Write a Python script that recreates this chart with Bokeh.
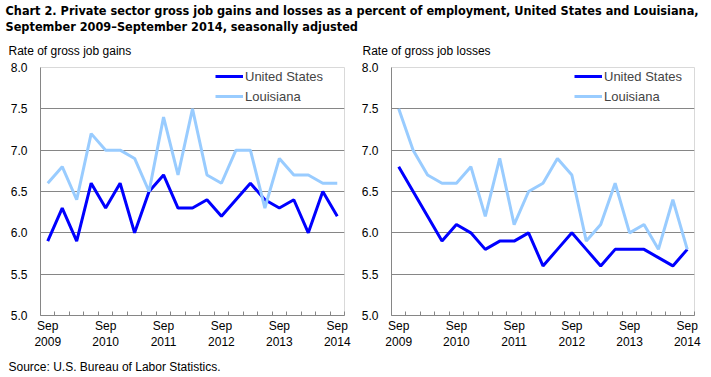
from bokeh.plotting import figure
from bokeh.models import Range1d, Label, FixedTicker, Legend, LegendItem
from bokeh.layouts import column, row
from bokeh.embed import file_html
from bokeh.resources import INLINE

# ---------------- data ----------------
quarters = ["Sep 2009", "Dec 2009", "Mar 2010", "Jun 2010", "Sep 2010", "Dec 2010",
            "Mar 2011", "Jun 2011", "Sep 2011", "Dec 2011", "Mar 2012", "Jun 2012",
            "Sep 2012", "Dec 2012", "Mar 2013", "Jun 2013", "Sep 2013", "Dec 2013",
            "Mar 2014", "Jun 2014", "Sep 2014"]
us_gains = [5.9, 6.3, 5.9, 6.6, 6.3, 6.6, 6.0, 6.5, 6.7, 6.3, 6.3, 6.4, 6.2, 6.4, 6.6,
            6.4, 6.3, 6.4, 6.0, 6.5, 6.2]
la_gains = [6.6, 6.8, 6.4, 7.2, 7.0, 7.0, 6.9, 6.5, 7.4, 6.7, 7.5, 6.7, 6.6, 7.0, 7.0,
            6.3, 6.9, 6.7, 6.7, 6.6, 6.6]
us_losses = [6.8, 6.5, 6.2, 5.9, 6.1, 6.0, 5.8, 5.9, 5.9, 6.0, 5.6, 5.8, 6.0, 5.8, 5.6,
             5.8, 5.8, 5.8, 5.7, 5.6, 5.8]
la_losses = [7.5, 7.0, 6.7, 6.6, 6.6, 6.8, 6.2, 6.9, 6.1, 6.5, 6.6, 6.9, 6.7, 5.9, 6.1,
             6.6, 6.0, 6.1, 5.8, 6.4, 5.8]
y_ticks = [5.0, 5.5, 6.0, 6.5, 7.0, 7.5, 8.0]
label_every = 4

title_lines = ["Chart 2. Private sector gross  job gains and losses  as a percent of employment, United  States  and Louisiana,",
               "September 2009\u2013September 2014,  seasonally  adjusted"]
left_ylabel = "Rate of gross job gains"
right_ylabel = "Rate of gross job losses"
source_text = "Source: U.S. Bureau of Labor Statistics."

# ---------------- style ----------------
US_COLOR = "#0000FF"
LA_COLOR = "#99CCFF"
GRID = "#868686"
FONT = "Liberation Sans"
NARROW = "'DejaVu Sans Condensed', 'Liberation Sans'"

x = list(range(len(quarters)))
major = x[::label_every]
overrides = {i: quarters[i].replace(" ", "\n") for i in major}


def blank_fig(w, h):
    f = figure(width=w, height=h, output_backend="svg", toolbar_location=None,
               x_axis_type=None, y_axis_type=None, min_border=0,
               x_range=Range1d(0, w), y_range=Range1d(0, h))
    f.outline_line_color = None
    f.grid.visible = False
    return f


top = blank_fig(711, 58)
top.add_layout(Label(x=5, y=48, text=title_lines[0], text_font=NARROW, text_font_style="bold",
                     text_font_size="12.6px", text_baseline="middle", text_color="black"))
top.add_layout(Label(x=5, y=32, text=title_lines[1], text_font=NARROW, text_font_style="bold",
                     text_font_size="12.6px", text_baseline="middle", text_color="black"))
top.add_layout(Label(x=8, y=8, text=left_ylabel, text_font=FONT,
                     text_font_size="12px", text_baseline="middle", text_color="black"))
top.add_layout(Label(x=362, y=8, text=right_ylabel, text_font=FONT,
                     text_font_size="12px", text_baseline="middle", text_color="black"))


def panel(w, left, right, us, la, legend_x):
    p = figure(width=w, height=294, output_backend="svg", toolbar_location=None,
               x_range=Range1d(-0.5, len(quarters) - 0.5), y_range=Range1d(5.0, 8.0),
               min_border_left=left, min_border_right=right,
               min_border_top=9, min_border_bottom=37)
    p.outline_line_color = "#d9d9d9"
    p.xgrid.visible = False
    p.ygrid.ticker = FixedTicker(ticks=y_ticks[1:-1])
    p.ygrid.grid_line_color = GRID
    p.ygrid.grid_line_width = 1

    p.yaxis.ticker = FixedTicker(ticks=y_ticks)
    p.yaxis.major_label_overrides = {t: f"{t:.1f}" for t in y_ticks}
    p.yaxis.major_tick_in = 0
    p.yaxis.major_tick_out = 0
    p.yaxis.minor_tick_line_color = None
    p.yaxis.axis_line_color = GRID
    p.yaxis.major_label_standoff = 13
    p.yaxis.major_label_text_font = FONT
    p.yaxis.major_label_text_font_size = "12px"
    p.yaxis.major_label_text_color = "black"

    p.xaxis.ticker = FixedTicker(ticks=major, minor_ticks=[i - 0.5 for i in range(len(quarters) + 1)])
    p.xaxis.major_label_overrides = overrides
    p.xaxis.major_tick_in = 0
    p.xaxis.major_tick_out = 0
    p.xaxis.minor_tick_in = 4
    p.xaxis.minor_tick_out = 0
    p.xaxis.minor_tick_line_color = GRID
    p.xaxis.axis_line_color = GRID
    p.xaxis.major_label_standoff = 3
    p.xaxis.major_label_text_font = FONT
    p.xaxis.major_label_text_font_size = "12px"
    p.xaxis.major_label_text_color = "black"

    r_us = p.line(x, us, line_color=US_COLOR, line_width=3)
    r_la = p.line(x, la, line_color=LA_COLOR, line_width=3)

    leg = Legend(items=[LegendItem(label="United States", renderers=[r_us]),
                        LegendItem(label="Louisiana", renderers=[r_la])],
                 location=(legend_x, 209))
    leg.padding = 0
    leg.margin = 0
    leg.spacing = 0
    leg.glyph_width = 28
    leg.glyph_height = 20
    leg.label_height = 20
    leg.label_standoff = 2
    leg.label_text_font = FONT
    leg.label_text_font_size = "13px"
    leg.border_line_color = None
    leg.background_fill_alpha = 0
    p.add_layout(leg, "center")
    return p


left_p = panel(355, 40, 11, us_gains, la_gains, 175)
right_p = panel(356, 36, 17, us_losses, la_losses, 183)

bottom = blank_fig(711, 25)
bottom.add_layout(Label(x=8, y=11, text=source_text, text_font=FONT,
                        text_font_size="12px", text_baseline="middle", text_color="black"))

layout = column(top, row(left_p, right_p, spacing=0), bottom, spacing=0)

open("out.html", "w").write(file_html(layout, INLINE))
